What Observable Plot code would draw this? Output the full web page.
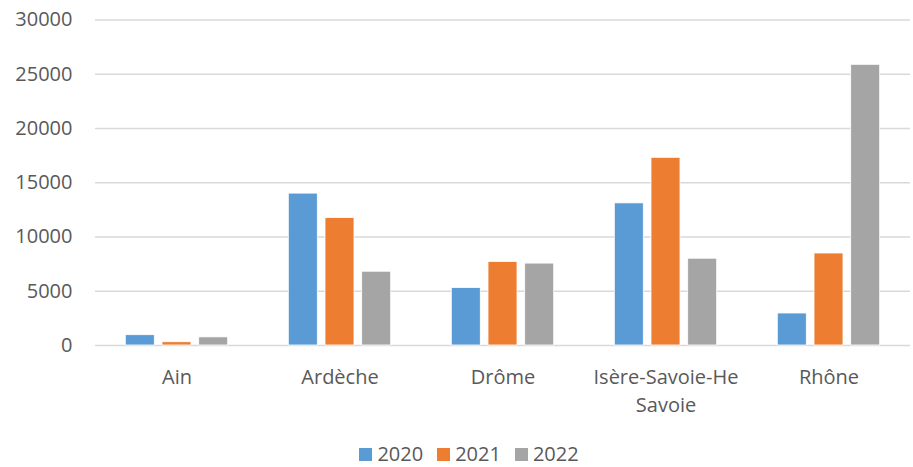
<!DOCTYPE html>
<html>
<head>
<meta charset="utf-8">
<script src="https://cdn.jsdelivr.net/npm/d3@7"></script>
<script src="https://cdn.jsdelivr.net/npm/@observablehq/plot@0.6"></script>
<style>
  html, body { margin: 0; padding: 0; background: #fff; }
  #chart { width: 913px; font-family: "Open Sans", sans-serif; }
  .legend { display: flex; justify-content: center; align-items: center; height: 37px; padding-top: 11px; padding-left: 25px; box-sizing: border-box; font-family: "Open Sans", sans-serif; font-size: 20px; line-height: 22px; color: #595959; }
  .legend .item { display: flex; align-items: center; margin: 0 7px; }
  .legend .sw { width: 13px; height: 13px; margin-right: 5px; }
</style>
</head>
<body>
<div id="chart"></div>
<script>
const categories = ["Ain", "Ardèche", "Drôme", "Isère-Savoie-He Savoie", "Rhône"];
const years = ["2020", "2021", "2022"];
const values2020 = [950, 14000, 5300, 13100, 2950];
const values2021 = [300, 11750, 7700, 17300, 8480];
const values2022 = [750, 6800, 7550, 8000, 25870];
const colors = ["#5B9BD5", "#ED7D31", "#A5A5A5"];
const yTicks = [0, 5000, 10000, 15000, 20000, 25000, 30000];

const series = [values2020, values2021, values2022];
const labelMap = {"Isère-Savoie-He Savoie": "Isère-Savoie-He\nSavoie"};

const barWidth = 29, barStep = 36.7, bandStep = 163;
const inset = (bandStep - barWidth) / 2;

const barMarks = years.map((y, j) => Plot.barY(
  categories.map((c, i) => ({category: c, year: y, value: series[j][i]})),
  {x: "category", y: "value", fill: "year", stroke: "#fff", strokeWidth: 0.8,
   insetLeft: inset, insetRight: inset, dx: (j - 1) * barStep}
));

const chart = Plot.plot({
  width: 913,
  height: 430,
  marginLeft: 95,
  marginRight: 3,
  marginTop: 19.5,
  marginBottom: 85,
  style: {fontFamily: "Open Sans, sans-serif", fontSize: "20px", color: "#595959", background: "#fff"},
  x: {domain: categories, padding: 0, label: null},
  y: {domain: [0, 30000], ticks: yTicks, label: null},
  color: {domain: years, range: colors},
  marks: [
    Plot.gridY(yTicks, {stroke: "#D9D9D9", strokeOpacity: 1, strokeWidth: 1.3}),
    Plot.axisY(yTicks, {tickSize: 0, tickPadding: 23, fontSize: 20, fill: "#595959", label: null, tickFormat: d => String(d)}),
    ...barMarks,
    Plot.axisX({tickSize: 0, tickPadding: 19, fontSize: 20, fill: "#595959", lineHeight: 1.38, tickFormat: d => labelMap[d] || d, label: null})
  ]
});
document.getElementById("chart").appendChild(chart);

const legend = document.createElement("div");
legend.className = "legend";
years.forEach((y, j) => {
  const item = document.createElement("div");
  item.className = "item";
  const sw = document.createElement("span");
  sw.className = "sw";
  sw.style.background = colors[j];
  const t = document.createElement("span");
  t.textContent = y;
  item.appendChild(sw); item.appendChild(t);
  legend.appendChild(item);
});
document.getElementById("chart").appendChild(legend);
</script>
</body>
</html>
